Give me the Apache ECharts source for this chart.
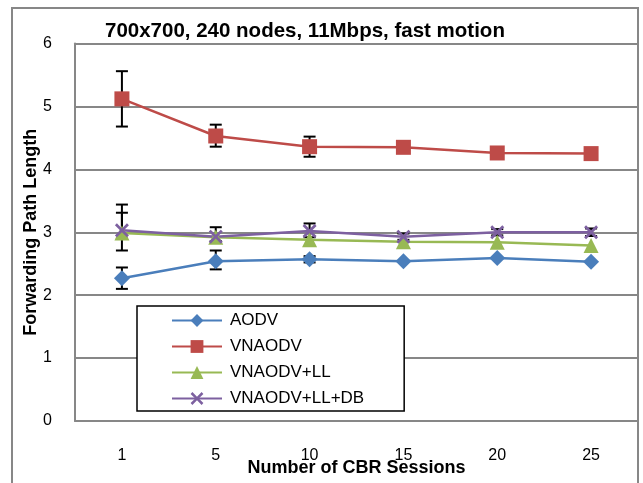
<!DOCTYPE html>
<html><head><meta charset="utf-8">
<script src="https://cdn.jsdelivr.net/npm/echarts@6/dist/echarts.min.js"></script>
<style>html,body{margin:0;padding:0;background:#fff}#c{width:643px;height:483px}</style>
</head><body><div id="c"></div>
<script>
const categories = ['1','5','10','15','20','25'];
const aodv = [2.27, 2.54, 2.57, 2.54, 2.59, 2.53];
const vnaodv = [5.12, 4.53, 4.36, 4.35, 4.26, 4.25];
const vnaodvLL = [2.99, 2.92, 2.88, 2.85, 2.84, 2.79];
const vnaodvLLDB = [3.03, 2.93, 3.02, 2.93, 3.00, 3.00];
// error bars: [category index, low, high]
const aodvErr = [[0, 2.10, 2.44], [1, 2.41, 2.71], [2, 2.52, 2.62]];
const vnaodvErr = [[0, 4.68, 5.56], [1, 4.36, 4.71], [2, 4.20, 4.52]];
const llErr = [[0, 2.71, 3.44]];
const dbErr = [[0, 2.90, 3.31], [1, 2.86, 3.08], [2, 2.92, 3.14], [3, 2.88, 2.98], [4, 2.95, 3.05], [5, 2.94, 3.06]];
const yTicks = [0, 1, 2, 3, 4, 5, 6];

const chart = echarts.init(document.getElementById('c'), null, {renderer: 'canvas'});
const X_PATH = 'path://M0,1.4 L1.4,0 L5,3.6 L8.6,0 L10,1.4 L6.4,5 L10,8.6 L8.6,10 L5,6.4 L1.4,10 L0,8.6 L3.6,5 Z';
function errItem(params, api) {
  const i = api.value(0);
  const lo = api.coord([i, api.value(1)]);
  const hi = api.coord([i, api.value(2)]);
  const hw = 6;
  const st = {stroke: '#000', lineWidth: 2};
  return {type: 'group', children: [
    {type: 'line', shape: {x1: lo[0], y1: lo[1], x2: hi[0], y2: hi[1]}, style: st},
    {type: 'line', shape: {x1: lo[0]-hw, y1: lo[1], x2: lo[0]+hw, y2: lo[1]}, style: st},
    {type: 'line', shape: {x1: hi[0]-hw, y1: hi[1], x2: hi[0]+hw, y2: hi[1]}, style: st}
  ]};
}
const fontFam = '"Liberation Sans", Arial, sans-serif';
const colors = ['#4A7EBB', '#BE4B48', '#98B954', '#7D60A0'];
function lineSeries(name, data, color, symbol, size) {
  return {name, type: 'line', data, symbol, symbolSize: size, z: 3,
    itemStyle: {color}, lineStyle: {color, width: 2.5}, emphasis: {disabled: true}, animation: false};
}
chart.setOption({
  animation: false,
  backgroundColor: '#fff',
  title: {text: '700x700, 240 nodes, 11Mbps, fast motion', left: 100, top: 16,
    textStyle: {fontFamily: fontFam, fontWeight: 'bold', fontSize: 20.5, color: '#000'}},
  graphic: [{type: 'rect', shape: {x: 12, y: 8, width: 626, height: 520}, style: {fill: 'none', stroke: '#878787', lineWidth: 2}, z: 100, silent: true}],
  grid: {left: 75, right: 5, top: 43.5, bottom: 62, outerBoundsMode: 'none', containLabel: false},
  legend: {
    orient: 'vertical', left: 137, top: 306,
    padding: [6, 40, 4, 34], itemGap: 9, itemWidth: 50, itemHeight: 16,
    backgroundColor: '#fff', borderColor: '#000', borderWidth: 1.5,
    textStyle: {fontFamily: fontFam, fontSize: 17, lineHeight: 16, color: '#000', padding: [0, 0, 0, 3]},
    data: ['AODV', 'VNAODV', 'VNAODV+LL', 'VNAODV+LL+DB']
  },
  xAxis: {type: 'category', data: categories, boundaryGap: true,
    name: 'Number of CBR Sessions', nameLocation: 'middle', nameGap: 38, nameMoveOverlap: false,
    nameTextStyle: {fontFamily: fontFam, fontWeight: 'bold', fontSize: 18, color: '#000'},
    axisLine: {lineStyle: {color: '#878787', width: 2}}, axisTick: {show: false},
    axisLabel: {fontFamily: fontFam, fontSize: 16, color: '#000', margin: 27},
    splitLine: {show: false}},
  yAxis: {type: 'value', min: yTicks[0], max: yTicks[yTicks.length-1], interval: 1,
    name: 'Forwarding Path Length', nameLocation: 'middle', nameGap: 35, nameMoveOverlap: false,
    nameTextStyle: {fontFamily: fontFam, fontWeight: 'bold', fontSize: 18, color: '#000'},
    axisLine: {show: true, lineStyle: {color: '#878787', width: 2}}, axisTick: {show: false},
    axisLabel: {fontFamily: fontFam, fontSize: 16, color: '#000', margin: 23},
    splitLine: {lineStyle: {color: '#878787', width: 2}}},
  series: [
    {type: 'custom', renderItem: errItem, data: aodvErr, z: 2, silent: true},
    {type: 'custom', renderItem: errItem, data: vnaodvErr, z: 2, silent: true},
    {type: 'custom', renderItem: errItem, data: llErr, z: 2, silent: true},
    {type: 'custom', renderItem: errItem, data: dbErr, z: 2, silent: true},
    lineSeries('AODV', aodv, colors[0], 'diamond', 16),
    lineSeries('VNAODV', vnaodv, colors[1], 'rect', 15),
    lineSeries('VNAODV+LL', vnaodvLL, colors[2], 'triangle', 15),
    lineSeries('VNAODV+LL+DB', vnaodvLLDB, colors[3], X_PATH, 14)
  ]
});
</script></body></html>
